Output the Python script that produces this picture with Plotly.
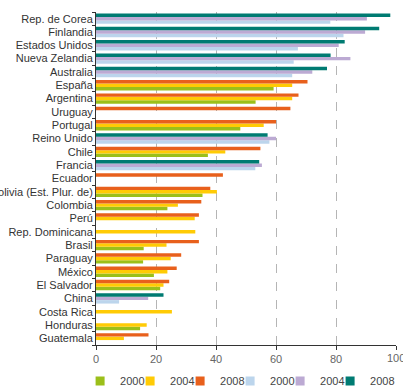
import plotly.graph_objects as go

countries = ["Rep. de Corea", "Finlandia", "Estados Unidos", "Nueva Zelandia", "Australia",
             "España", "Argentina", "Uruguay", "Portugal", "Reino Unido", "Chile", "Francia",
             "Ecuador", "Bolivia (Est. Plur. de)", "Colombia", "Perú", "Rep. Dominicana",
             "Brasil", "Paraguay", "México", "El Salvador", "China", "Costa Rica",
             "Honduras", "Guatemala"]

N = None
# Latin America / Iberia series
la_2000 = [N, N, N, N, N, 59.2, 53.2, N, 48.1, N, 37.3, N, N, 35.5, 23.8, N, N,
           15.9, 15.7, 19.3, 21.4, N, N, 14.7, N]
la_2004 = [N, N, N, N, N, 65.4, 65.4, N, 55.9, N, 43.1, N, N, 40.3, 27.3, 32.9, 33.1,
           23.5, 24.9, 23.8, 22.5, N, 25.3, 16.9, 9.3]
la_2008 = [N, N, N, N, N, 70.5, 67.5, 64.8, 60.0, N, 54.8, N, 42.3, 38.1, 35.1, 34.3, N,
           34.3, 28.4, 26.9, 24.4, N, N, N, 17.5]
# Other countries series
ot_2000 = [78.1, 82.5, 67.3, 65.9, 65.4, N, N, N, N, 57.8, N, 53.1, N, N, N, N, N,
           N, N, N, N, 7.7, N, N, N]
ot_2004 = [90.3, 89.7, 80.9, 84.8, 72.1, N, N, N, N, 60.0, N, 55.3, N, N, N, N, N,
           N, N, N, N, 17.4, N, N, N]
ot_2008 = [98.1, 94.4, 82.9, 78.2, 77.0, N, N, N, N, 57.2, N, 54.4, N, N, N, N, N,
           N, N, N, N, 22.5, N, N, N]

x_ticks = [0, 20, 40, 60, 80, 100]

series = [
    ("2000", la_2000, "#9bbf1a", "a"),
    ("2004", la_2004, "#ffcb05", "b"),
    ("2008", la_2008, "#e8601c", "c"),
    ("2000", ot_2000, "#bcd5ec", "a"),
    ("2004", ot_2004, "#bcaad3", "b"),
    ("2008", ot_2008, "#007b72", "c"),
]

fig = go.Figure()
for name, vals, color, og in series:
    fig.add_trace(go.Bar(
        y=countries, x=vals, name=name, orientation="h",
        marker=dict(color=color, line=dict(width=0)),
        offsetgroup=og, showlegend=False,
    ))

# legend entries (one small legend per entry so they can sit 50px apart)
leg_x0 = -0.053
legends = {}
for i, (name, vals, color, og) in enumerate(series):
    lg = "legend" if i == 0 else f"legend{i + 1}"
    fig.add_trace(go.Scatter(
        x=[None], y=[None], mode="markers", name=name,
        marker=dict(symbol="square", size=9, color=color, line=dict(width=0)),
        legend=lg, showlegend=True, hoverinfo="skip",
    ))
    legends[lg] = dict(orientation="h", x=leg_x0 + i * 50 / 300, xanchor="left",
                       y=-0.108, yanchor="middle", itemwidth=30,
                       font=dict(size=11, color="#444444"),
                       bgcolor="rgba(0,0,0,0)")

fig.update_layout(
    width=403, height=387,
    margin=dict(l=96, r=7, t=12, b=42, autoexpand=False),
    paper_bgcolor="white", plot_bgcolor="white",
    barmode="group", bargap=0.22, bargroupgap=0,
    font=dict(family="Liberation Sans, Arial, sans-serif", size=11, color="#333333"),
    **legends,
)
fig.update_xaxes(
    range=[0, 100], tickvals=x_ticks,
    ticktext=[str(v) if v < 100 else "" for v in x_ticks],
    showgrid=True, gridcolor="#b5b5b5", griddash="dash", gridwidth=1,
    showline=True, linecolor="#333333", linewidth=1,
    ticks="outside", ticklen=4, tickcolor="#333333",
    tickfont=dict(color="#666666", size=11), zeroline=False,
)
fig.add_annotation(x=x_ticks[-1], y=0, xref="x", yref="paper", text=str(x_ticks[-1]),
                   showarrow=False, yanchor="top", yshift=-5,
                   font=dict(color="#666666", size=11))
fig.update_yaxes(
    categoryorder="array", categoryarray=countries[::-1],
    showline=True, linecolor="#333333", linewidth=1,
    ticks="outside", ticklen=3, tickcolor="#333333", tickson="boundaries",
    tickfont=dict(color="#333333", size=11), showgrid=False, automargin=False,
)

fig.write_html("out.html")
